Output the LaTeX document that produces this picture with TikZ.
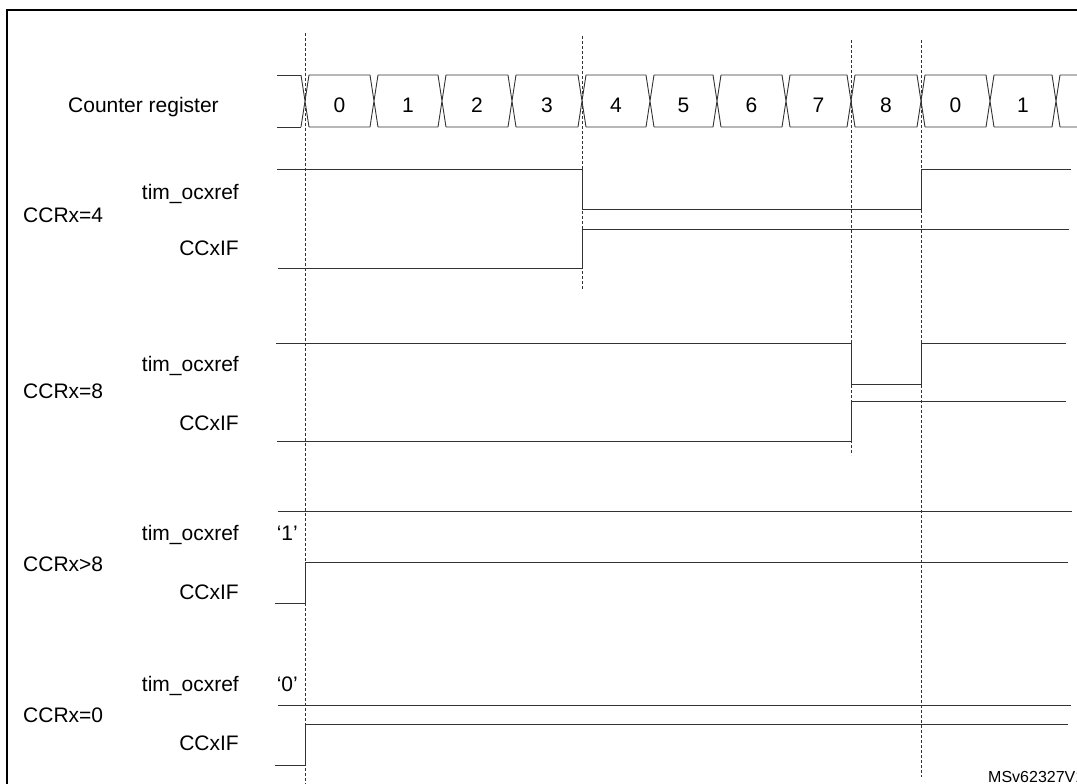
\documentclass[tikz,border=0pt]{standalone}
\usepackage{fontspec}
\setmainfont{Liberation Sans}

\tikzset{
  wave/.style={draw=black!80, line width=0.9pt},
  guide/.style={draw=black!80, line width=0.8pt, dash pattern=on 3pt off 2pt},
  sig/.style={font=\fontsize{21}{25}\selectfont, inner sep=0pt},
}

\begin{document}
\begin{tikzpicture}[x=1pt,y=-1pt]
  \useasboundingbox (0,0) rectangle (1077,784);
  % frame
  \draw[line width=2.2pt] (7,820) -- (7,10) -- (1110,10);

  % time marks
  \draw[guide] (305,33) -- (305,790);
  \draw[guide] (582,36) -- (582,290);
  \draw[guide] (851,40) -- (851,455);
  \draw[guide] (921,40) -- (921,777);

  % counter register
  \node[sig, anchor=base west] (cnt) at (68,113) {Counter register};
  \draw[wave] (277,75) -- (301,75) (277,127) -- (301,127);
  \foreach \a/\b/\v [count=\i] in {305/374/0, 374/442/1, 442/512/2, 512/582/3,
      582/650/4, 650/717/5, 717/786/6, 786/851/7, 851/921/8, 921/990/0, 990/1056/1}
  {
    \draw[wave] (\a-4,75) -- (\a+4,127) (\a-4,127) -- (\a+4,75)
      (\a+4,75) -- (\b-4,75) (\a+4,127) -- (\b-4,127);
    \node[sig, anchor=base] (c\i) at ({(\a+\b)/2},113) {\v};
  }
  \draw[wave] (1052,75) -- (1060,127) (1052,127) -- (1060,75)
    (1060,75) -- (1085,75) (1060,127) -- (1085,127);

  % CCRx=4
  \node[sig, anchor=base west] (r4) at (23,222) {CCRx=4};
  \node[sig, anchor=base east] (r4ref) at (239,199) {tim\_ocxref};
  \node[sig, anchor=base east] (r4if) at (239,255) {CCxIF};
  \draw[wave] (277,169) -- (582,169) -- (582,209) -- (921,209) -- (921,169) -- (1071,169);
  \draw[wave] (278,268) -- (582,268) -- (582,229) -- (1069,229);

  % CCRx=8
  \node[sig, anchor=base west] (r8) at (23,398) {CCRx=8};
  \node[sig, anchor=base east] (r8ref) at (239,371) {tim\_ocxref};
  \node[sig, anchor=base east] (r8if) at (239,430) {CCxIF};
  \draw[wave] (276,343) -- (851,343) -- (851,384) -- (921,384) -- (921,343) -- (1066,343);
  \draw[wave] (277,441) -- (851,441) -- (851,401) -- (1066,401);

  % CCRx>8
  \node[sig, anchor=base west] (rgt) at (23,571) {CCRx>8};
  \node[sig, anchor=base east] (rgtref) at (239,540) {tim\_ocxref};
  \node[sig, anchor=base east] (rgtone) at (298,540) {‘1’};
  \node[sig, anchor=base east] (rgtif) at (239,599) {CCxIF};
  \draw[wave] (278,511) -- (1072,511);
  \draw[wave] (275,603) -- (305,603) -- (305,562) -- (1068,562);

  % CCRx=0
  \node[sig, anchor=base west] (r0) at (23,722) {CCRx=0};
  \node[sig, anchor=base east] (r0ref) at (239,691) {tim\_ocxref};
  \node[sig, anchor=base east] (r0zero) at (298,691) {‘0’};
  \node[sig, anchor=base east] (r0if) at (239,750) {CCxIF};
  \draw[wave] (278,705) -- (1071,705);
  \draw[wave] (275,765) -- (305,765) -- (305,724) -- (1068,724);

  \node[font=\fontsize{16}{19}\selectfont, inner sep=0pt, anchor=base west] (ref) at (988,782) {MSv62327V1};
\end{tikzpicture}
\end{document}
